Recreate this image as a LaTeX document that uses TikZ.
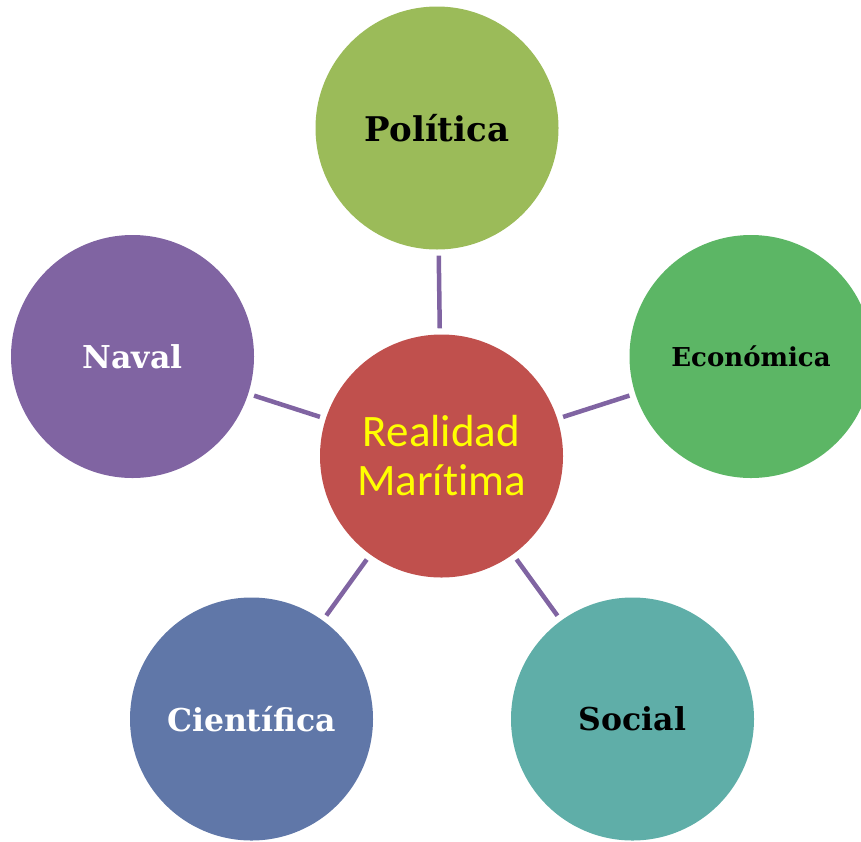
\documentclass[tikz,border=0pt]{standalone}
\usepackage{fontspec}
\setmainfont{DejaVu Serif}
\newfontfamily\calibri[Ligatures=NoCommon]{Carlito}
\usepackage{tikz}
\usetikzlibrary{positioning, calc}
\definecolor{redcore}{HTML}{C0504D}
\definecolor{olivegreen}{HTML}{9BBB59}
\definecolor{leafgreen}{HTML}{5CB665}
\definecolor{violetnaval}{HTML}{8064A2}
\definecolor{bluescience}{HTML}{6077A8}
\definecolor{tealsocial}{HTML}{5FAEA8}
\definecolor{spoke}{HTML}{8064A2}
\definecolor{goldtext}{HTML}{FFFF00}

\begin{document}
\begin{tikzpicture}[x=1pt, y=-1pt,
	bubble/.style={circle, draw=none, minimum size=2*\radius pt, inner sep=0pt, align=center, font=\bfseries},
	link/.style={draw=spoke, line width=4.5pt, shorten >=6pt, shorten <=6pt}]
	\pgfmathsetmacro{\radius}{121.5}
	\clip (0,0) rectangle (861,841);
	\useasboundingbox (0,0) rectangle (861,841);
	
	% center
	\node[bubble, fill=redcore, text=goldtext, font=\calibri\fontsize{45}{49}\selectfont] (core) at (441.5,456) {Realidad\\Marítima};
	
	% outer ring
	\node[bubble, fill=olivegreen, text=black, font=\bfseries\fontsize{34}{38}\selectfont] (politica) at (437,128) {Política};
	\node[bubble, fill=leafgreen, text=black, font=\bfseries\fontsize{26}{30}\selectfont] (economica) at (751,356.5) {Económica};
	\node[bubble, fill=violetnaval, text=white, font=\bfseries\fontsize{31.5}{36}\selectfont] (naval) at (132.5,356.5) {Naval};
	\node[bubble, fill=bluescience, text=white, font=\bfseries\fontsize{31.5}{36}\selectfont] (cientifica) at (251.5,719) {Científica};
	\node[bubble, fill=tealsocial, text=black, font=\bfseries\fontsize{31.5}{36}\selectfont] (social) at (632.5,719) {Social};
	
	% spokes
	\draw[link] (politica) -- (core);
	\draw[link] (economica) -- (core);
	\draw[link] (naval) -- (core);
	\draw[link] (cientifica) -- (core);
	\draw[link] (social) -- (core);
\end{tikzpicture}
\end{document}
